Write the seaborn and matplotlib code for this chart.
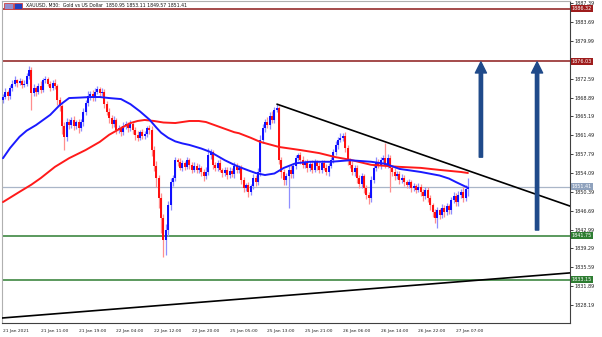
import numpy as np
import matplotlib
matplotlib.use("Agg")
import matplotlib.pyplot as plt
import matplotlib.transforms as mtransforms
from matplotlib import font_manager as fm
from matplotlib.patches import Rectangle
import seaborn as sns

sns.set_style("white")
_names = {f.name for f in fm.fontManager.ttflist}
if "Liberation Sans Narrow" in _names:
    plt.rcParams['font.family'] = ['Liberation Sans Narrow', 'DejaVu Sans']
    FS = 1.0
else:
    plt.rcParams['font.family'] = ['DejaVu Sans']
    FS = 0.72

# ---------------- data ----------------
first_open = 1868.4
close = [
    1869.0, 1870.0, 1869.2, 1870.8, 1871.6, 1872.3, 1871.8, 1872.2, 1871.4, 1871.6,
    1873.1, 1874.3, 1869.8, 1870.8, 1870.0, 1871.2, 1870.4, 1872.3, 1872.5, 1871.6,
    1870.8, 1871.8, 1871.2, 1868.4, 1867.2, 1863.3, 1861.2, 1864.1, 1863.5, 1864.5,
    1863.3, 1864.1, 1862.9, 1864.1, 1866.1, 1867.8, 1869.2, 1869.6, 1868.8, 1870.0,
    1870.6, 1869.8, 1870.0, 1867.6, 1866.1, 1864.9, 1863.7, 1864.5, 1862.5, 1862.9,
    1862.1, 1863.3, 1863.7, 1862.9, 1863.7, 1862.5, 1861.5, 1861.0, 1862.1, 1861.4,
    1861.7, 1862.9, 1862.5, 1858.6, 1855.5, 1853.1, 1849.2, 1845.3, 1841.0, 1842.9,
    1847.8, 1852.3, 1853.1, 1856.6, 1856.3, 1855.1, 1856.1, 1855.3, 1856.6, 1855.7,
    1854.7, 1855.5, 1854.7, 1855.1, 1854.3, 1853.5, 1854.3, 1857.6, 1858.2, 1855.7,
    1855.1, 1856.1, 1854.7, 1854.1, 1854.7, 1853.7, 1854.5, 1853.9, 1855.5, 1854.7,
    1855.1, 1852.7, 1851.2, 1851.7, 1850.4, 1851.5, 1853.1, 1852.3, 1854.3, 1860.6,
    1862.9, 1864.1, 1863.5, 1865.3, 1864.5, 1866.5, 1866.8, 1856.6, 1854.3, 1852.7,
    1853.5, 1854.7, 1853.9, 1855.5, 1857.0, 1857.6, 1856.6, 1855.7, 1856.3, 1855.1,
    1855.9, 1854.7, 1856.3, 1855.5, 1854.7, 1856.1, 1855.1, 1854.3, 1855.5, 1856.6,
    1858.2, 1859.6, 1860.6, 1861.0, 1861.4, 1859.0, 1856.6, 1855.7, 1854.3, 1855.1,
    1853.1, 1851.9, 1853.5, 1851.2, 1849.8, 1849.2, 1852.7, 1855.1, 1856.3, 1855.5,
    1856.6, 1857.0, 1855.7, 1857.0, 1855.1, 1854.3, 1853.5, 1853.9, 1852.7, 1853.1,
    1852.3, 1851.7, 1852.3, 1851.2, 1851.5, 1850.8, 1851.4, 1850.4, 1849.6, 1850.8,
    1849.2, 1847.8, 1846.4, 1845.3, 1846.8, 1845.9, 1847.2, 1846.4, 1847.6, 1846.8,
    1848.8, 1849.6, 1848.4, 1849.8, 1850.4, 1849.2, 1850.95, 1851.41,
]
upper_wick = [
    0.6, 0.8, 0.4, 0.5, 0.7, 0.9, 0.3, 0.6, 0.4, 0.8,
    0.6, 0.8, 0.5, 0.7, 0.4, 0.6, 0.9, 0.5, 0.7, 0.4,
    0.6, 0.5, 0.8, 0.4, 0.6, 0.5, 0.9, 0.7, 0.5, 0.6,
    0.8, 0.4, 0.6, 0.5, 0.7, 0.6, 0.9, 0.5, 0.7, 0.8,
    0.6, 0.4, 0.7, 0.5, 0.6, 0.8, 0.5, 0.7, 0.4, 0.6,
    0.5, 0.8, 0.6, 0.4, 0.7, 0.5, 0.6, 0.8, 0.4, 0.6,
    0.7, 0.5, 0.6, 0.8, 0.7, 0.9, 0.6, 1.0, 0.8, 1.2,
    0.9, 0.8, 0.6, 0.7, 0.5, 0.8, 0.6, 0.4, 0.7, 0.5,
    0.6, 0.8, 0.5, 0.7, 0.4, 0.6, 0.9, 1.4, 0.7, 0.5,
    0.6, 0.5, 0.8, 0.4, 0.6, 0.5, 0.7, 0.6, 0.8, 0.5,
    0.6, 0.5, 0.7, 0.4, 0.6, 0.5, 0.8, 0.6, 0.7, 0.9,
    0.8, 0.6, 0.9, 0.7, 1.0, 0.6, 0.8, 0.4, 0.7, 0.5,
    0.6, 0.8, 1.0, 0.6, 0.7, 0.5, 0.6, 0.8, 0.4, 0.6,
    0.5, 0.7, 0.6, 0.4, 0.8, 0.5, 0.6, 0.7, 0.5, 0.6,
    0.7, 0.8, 0.6, 0.9, 0.5, 0.7, 0.6, 0.5, 0.8, 0.6,
    0.5, 0.7, 0.6, 0.4, 0.6, 0.5, 0.8, 0.7, 0.9, 0.6,
    0.7, 0.6, 3.0, 0.8, 0.6, 0.5, 0.7, 0.6, 0.5, 0.8,
    0.6, 0.5, 0.7, 0.4, 0.6, 0.5, 0.7, 0.6, 0.5, 0.6,
    0.5, 0.6, 0.4, 0.7, 0.6, 0.5, 0.8, 0.6, 0.7, 0.5,
    0.6, 0.7, 0.5, 0.8, 0.6, 0.9, 0.7, 1.7,
]
lower_wick = [
    0.5, 0.4, 0.7, 0.5, 0.6, 0.4, 0.8, 0.5, 0.6, 0.4,
    0.5, 0.6, 3.3, 0.6, 0.8, 0.5, 0.7, 0.4, 0.6, 0.5,
    0.7, 0.5, 0.6, 0.9, 1.0, 1.5, 2.6, 0.8, 0.7, 0.6,
    0.8, 0.6, 0.9, 0.5, 0.7, 0.6, 0.5, 0.8, 0.6, 0.5,
    0.4, 0.7, 0.5, 0.8, 0.6, 0.9, 0.7, 0.5, 0.8, 0.6,
    0.7, 0.5, 0.6, 0.8, 0.5, 0.7, 0.9, 0.6, 0.5, 0.7,
    0.6, 0.5, 0.7, 1.2, 1.0, 1.8, 2.0, 3.0, 3.4, 3.0,
    1.2, 0.9, 0.7, 0.6, 0.8, 0.5, 0.7, 0.6, 0.5, 0.8,
    0.6, 0.5, 0.7, 0.6, 0.8, 0.9, 0.6, 0.5, 0.7, 0.8,
    0.6, 0.7, 0.5, 0.8, 0.6, 0.7, 0.5, 0.6, 0.8, 0.6,
    0.7, 0.8, 0.9, 0.6, 1.0, 0.7, 0.6, 0.8, 0.5, 0.7,
    0.6, 0.8, 0.5, 0.7, 0.6, 0.5, 0.4, 0.8, 1.2, 0.9,
    1.0, 6.3, 0.8, 0.7, 0.6, 0.5, 0.8, 0.7, 0.6, 0.8,
    0.6, 0.7, 0.5, 0.8, 0.6, 0.7, 0.5, 0.6, 0.8, 0.5,
    0.6, 0.5, 0.7, 0.4, 0.6, 0.8, 0.9, 0.7, 0.6, 0.8,
    0.9, 0.7, 0.8, 1.0, 0.9, 1.1, 0.8, 0.6, 0.7, 0.5,
    0.6, 0.5, 0.7, 0.6, 4.7, 0.8, 0.7, 0.6, 0.8, 0.5,
    0.7, 0.6, 0.5, 0.8, 0.6, 0.7, 0.5, 0.8, 0.9, 0.6,
    0.8, 0.9, 1.0, 1.1, 2.0, 0.8, 0.7, 0.9, 0.6, 0.8,
    0.7, 0.6, 0.8, 0.7, 0.6, 0.8, 0.6, 1.38,
]

# moving averages (bar index, price)
ma_fast_bar = [0, 3, 7, 10, 14, 17, 20, 24, 28, 33, 37, 41, 45, 50, 54, 58, 62, 65, 67,
               70, 73, 76, 79, 84, 88, 91, 94, 98, 100, 104, 107, 111, 115, 119, 124,
               130, 139, 147, 156, 162, 168, 177, 185, 189, 192, 197]
ma_fast_price = [1857.0, 1859.0, 1861.2, 1862.4, 1863.5, 1864.5, 1865.5, 1867.4, 1868.8,
                 1868.9, 1869.0, 1869.0, 1868.8, 1868.6, 1867.6, 1866.2, 1864.6, 1863.0,
                 1862.0, 1861.0, 1860.3, 1859.9, 1859.6, 1858.9, 1858.2, 1857.4, 1856.6,
                 1855.7, 1855.3, 1854.6, 1854.1, 1853.7, 1854.0, 1855.1, 1856.0, 1856.3,
                 1856.3, 1856.6, 1856.3, 1855.9, 1854.9, 1854.3, 1853.6, 1853.0, 1852.3,
                 1851.2]
ma_slow_bar = [0, 7, 12, 16, 22, 28, 35, 41, 45, 50, 54, 57, 60, 64, 68, 73, 79, 83, 86,
               92, 98, 100, 105, 109, 117, 126, 134, 141, 147, 156, 168, 177, 185, 194, 197]
ma_slow_price = [1848.4, 1850.4, 1851.8, 1853.1, 1855.3, 1857.0, 1858.6, 1860.2, 1861.6,
                 1862.9, 1863.9, 1864.3, 1864.5, 1864.3, 1864.0, 1863.9, 1864.3, 1864.3,
                 1864.1, 1863.1, 1862.1, 1861.9, 1861.0, 1860.2, 1859.2, 1858.6, 1858.0,
                 1857.2, 1856.7, 1855.7, 1855.3, 1855.1, 1854.7, 1854.3, 1854.1]

resistance_levels = [1886.32, 1876.03]
support_levels = [1841.75, 1833.15]
current_price = 1851.41

trend_down_bar = [116.1, 240.3]
trend_down_price = [1867.6, 1847.6]
trend_up_bar = [-0.4, 240.3]
trend_up_price = [1825.65, 1834.5]

arrow_bar = [202.5, 226.3]
arrow_from = [1857.2, 1842.9]
arrow_to = [1875.9, 1875.9]

y_ticks = [1887.39, 1883.69, 1879.99, 1876.29, 1872.59, 1868.89, 1865.19, 1861.49,
           1857.79, 1854.09, 1850.39, 1846.69, 1842.99, 1839.29, 1835.59, 1831.89, 1828.19]
y_tick_hidden = [1876.29]   # covered by the 1876.03 level tag in the reference
x_tick_bars = [0, 16, 32, 48, 64, 80, 96, 112, 128, 144, 160, 176, 192]
x_tick_labels = ["21 Jan 2021", "21 Jan 11:00", "21 Jan 19:00", "22 Jan 04:00",
                 "22 Jan 12:00", "22 Jan 20:00", "25 Jan 05:00", "25 Jan 13:00",
                 "25 Jan 21:00", "26 Jan 06:00", "26 Jan 14:00", "26 Jan 22:00",
                 "27 Jan 07:00"]
title_text = "XAUUSD, M30:  Gold vs US Dollar  1850.95 1853.11 1849.57 1851.41"

# ---------------- figure ----------------
W, H = 602, 337
fig = plt.figure(figsize=(W / 100, H / 100), dpi=100)
ax = fig.add_axes([2 / W, 1 - 323 / H, 568 / W, 322 / H])

UP, DN = "#1010ff", "#ff1010"
UPW, DNW = "#8e8eff", "#ff8e8e"

c = np.array(close)
o = np.array([first_open] + close[:-1])
hi = np.maximum(o, c) + np.array(upper_wick)
lo = np.minimum(o, c) - np.array(lower_wick)
idx = np.arange(len(c))
is_up = c >= o

ax.vlines(idx, lo, hi, colors=np.where(is_up, UPW, DNW), linewidth=0.9, zorder=2)
ax.bar(idx, np.maximum(np.abs(c - o), 0.15), bottom=np.minimum(o, c), width=0.85,
       color=np.where(is_up, UP, DN), linewidth=0, zorder=3)

sns.lineplot(x=ma_slow_bar, y=ma_slow_price, color="#ff1a1a", linewidth=1.4, ax=ax, zorder=4)
sns.lineplot(x=ma_fast_bar, y=ma_fast_price, color="#1a1aff", linewidth=1.4, ax=ax, zorder=5)

# horizontal levels
for lv in resistance_levels:
    ax.axhline(lv, color="#8b1a1a", linewidth=1.1, zorder=1)
for lv in support_levels:
    ax.axhline(lv, color="#2e7d32", linewidth=1.1, zorder=1)
ax.axhline(current_price, color="#aab6c8", linewidth=0.9, zorder=1)

# trend lines
ax.plot(trend_down_bar, trend_down_price, color="black", linewidth=1.2, zorder=6)
ax.plot(trend_up_bar, trend_up_price, color="black", linewidth=1.2, zorder=6)

# arrows
for xb, y0, y1 in zip(arrow_bar, arrow_from, arrow_to):
    ax.annotate("", xy=(xb, y1), xytext=(xb, y0),
                arrowprops=dict(facecolor="#1f4a8a", edgecolor="#1f4a8a", width=2.4,
                                headwidth=8, headlength=8, shrink=0), zorder=7)

ax.set_xlim(-0.42, 240.25)
ax.set_ylim(1824.67, 1887.84)

# axes styling
ax.yaxis.tick_right()
ax.set_yticks(y_ticks)
ax.set_yticklabels(["" if v in y_tick_hidden else f"{v:.2f}" for v in y_ticks])
ax.tick_params(axis="y", length=2, width=0.6, pad=1, labelsize=4.9 * FS, colors="#222222")
ax.set_xticks(x_tick_bars)
ax.set_xticklabels(x_tick_labels)
ax.tick_params(axis="x", length=3, width=0.6, pad=1.5, labelsize=4.4 * FS, colors="#222222")
for lab in ax.get_xticklabels():
    lab.set_ha("left")
for side in ["left", "top"]:
    ax.spines[side].set_color("#b0b0b0")
    ax.spines[side].set_linewidth(0.8)
for side in ["right", "bottom"]:
    ax.spines[side].set_color("#404040")
    ax.spines[side].set_linewidth(0.8)

# price tags on the axis
blend = mtransforms.blended_transform_factory(ax.transAxes, ax.transData)
tags = [(lv, "#9e1c1c") for lv in resistance_levels] + \
       [(lv, "#2e7d32") for lv in support_levels] + [(current_price, "#8fa2bd")]
for lv, col in tags:
    ax.text(1.003, lv, f"{lv:.2f}", transform=blend, fontsize=4.9 * FS, color="white",
            va="center", ha="left", zorder=10, clip_on=False,
            bbox=dict(boxstyle="square,pad=0.2", fc=col, ec="none"))

# title and icon
fig.patches.append(Rectangle((4 / W, 1 - 9 / H), 9 / W, 6 / H, transform=fig.transFigure,
                             fc="#9090d0", ec="#d04040", lw=0.6))
fig.patches.append(Rectangle((14 / W, 1 - 9 / H), 8 / W, 6 / H, transform=fig.transFigure,
                             fc="#2040c0", ec="#d04040", lw=0.6))
fig.text(26 / W, 1 - 5 / H, title_text, fontsize=4.6 * FS, color="#111111",
         va="center", ha="left")

fig.savefig("out.png", dpi=100, facecolor="white")
